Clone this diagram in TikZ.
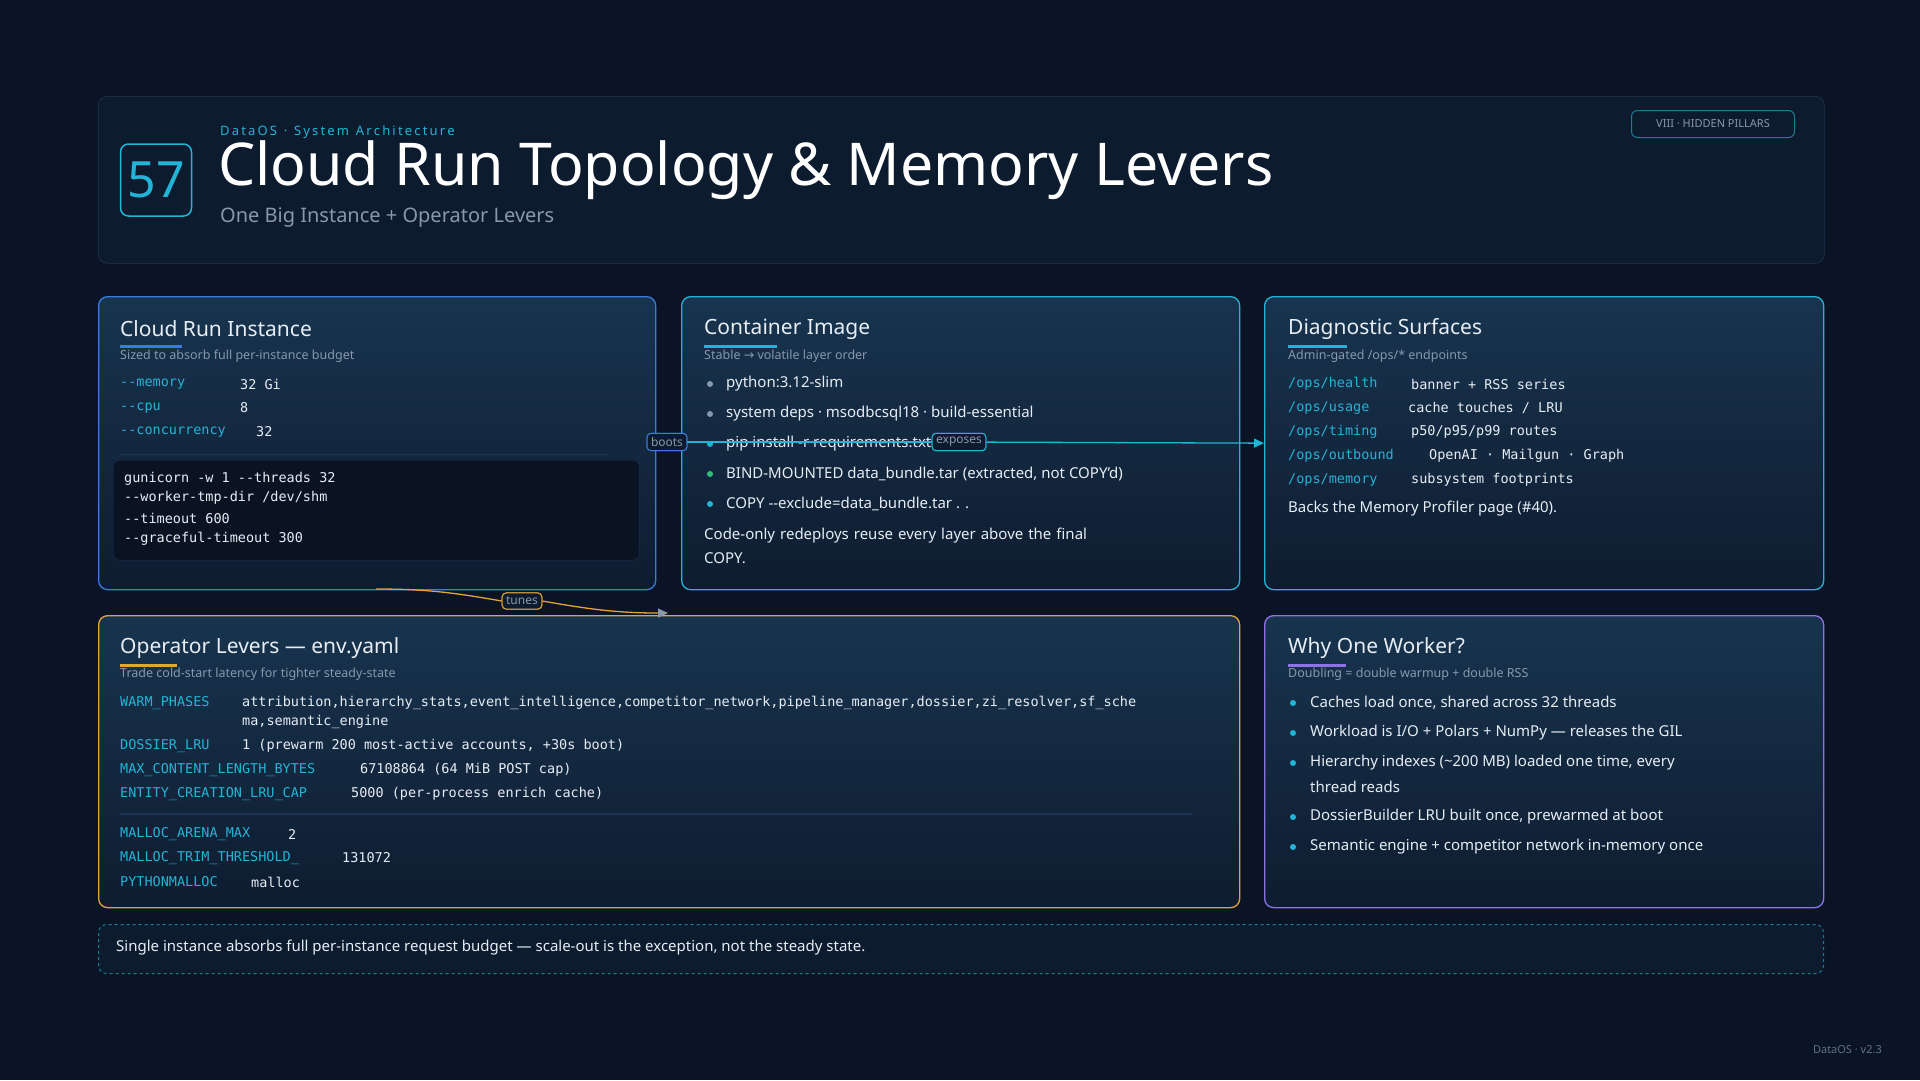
\documentclass[tikz,border=0pt]{standalone}
\usepackage{fontspec}
\setmainfont{Noto Sans}
\setmonofont{DejaVu Sans Mono}
\newfontfamily\symfont{DejaVu Sans}
\usetikzlibrary{arrows.meta,positioning,shapes.geometric}

\definecolor{bgdark}{HTML}{0A1424}
\definecolor{paneltop}{HTML}{18344E}
\definecolor{panelbot}{HTML}{0E1C30}
\definecolor{headfill}{HTML}{0D1B2E}
\definecolor{codefill}{HTML}{0A1322}
\definecolor{cyanacc}{HTML}{22B4D6}
\definecolor{blueacc}{HTML}{3B7BE0}
\definecolor{orangeacc}{HTML}{E3A23A}
\definecolor{purpleacc}{HTML}{8C72E6}
\definecolor{greenacc}{HTML}{2FBF7A}
\definecolor{txtgrey}{HTML}{8798AE}
\definecolor{txtwhite}{HTML}{E6EDF5}
\definecolor{sepline}{HTML}{1E3450}

\tikzset{
  panel/.style={draw=#1, line width=1.3pt, rounded corners=9pt, top color=paneltop, bottom color=panelbot, anchor=north west, inner sep=0pt},
  ptitle/.style={anchor=west, font=\fontsize{21}{24}\selectfont, text=txtwhite, inner sep=0pt},
  psub/.style={anchor=west, font=\fontsize{12.5}{15}\selectfont, text=txtgrey, inner sep=0pt},
  body/.style={anchor=west, font=\fontsize{15}{18}\selectfont, text=txtwhite, inner sep=0pt},
  key/.style={anchor=west, font=\ttfamily\fontsize{13.5}{16}\selectfont, text=cyanacc, inner sep=0pt},
  val/.style={anchor=west, font=\ttfamily\fontsize{13.5}{16}\selectfont, text=txtwhite, inner sep=0pt},
  dot/.style={circle, fill=#1, inner sep=0pt, minimum size=6pt},
  tag/.style={draw=#1, fill=headfill, rounded corners=4pt, font=\fontsize{12}{14}\selectfont, text=txtgrey, inner sep=4pt, line width=1pt},
  flow/.style={line width=1.3pt, cyanacc, -{Triangle[length=10pt,width=9pt]}}
}

\begin{document}
\begin{tikzpicture}[x=1pt, y=-1pt]
  % Hintergrund
  \fill[bgdark] (0,0) rectangle (1920,1080);
  \useasboundingbox (0,0) rectangle (1920,1080);

  % Kopfbereich
  \node (head) [panel=sepline, fill=headfill, top color=headfill, bottom color=headfill, line width=0.6pt, minimum width=1726pt, minimum height=167pt] at (98,96) {};
  \node (num) [draw=cyanacc, line width=1.5pt, rounded corners=8pt, minimum width=71pt, minimum height=72pt, font=\fontsize{50}{50}\selectfont, text=cyanacc, inner sep=0pt] at (156,180) {57};
  \node (kicker) [anchor=west, font=\fontsize{13}{15}\selectfont, text=cyanacc, inner sep=0pt] at (220,132) {D\,a\,t\,a\,O\,S\ \ ·\ \ S\,y\,s\,t\,e\,m\ \ A\,r\,c\,h\,i\,t\,e\,c\,t\,u\,r\,e};
  \node (title) [anchor=west, font=\fontsize{59}{62}\selectfont, text=white, inner sep=0pt] at (218,170) {Cloud Run Topology \& Memory Levers};
  \node (subtitle) [anchor=west, font=\fontsize{20}{24}\selectfont, text=txtgrey, inner sep=0pt] at (220,218) {One Big Instance + Operator Levers};
  \node (badge) [draw=cyanacc!70!black, fill=headfill, rounded corners=6pt, minimum width=163pt, minimum height=27pt, font=\fontsize{11}{13}\selectfont, text=txtgrey, line width=1pt] at (1713,124) {VIII · HIDDEN PILLARS};

  % Panelen
  \node (inst) [panel=blueacc, minimum width=557pt, minimum height=293pt] at (98,296) {};
  \node (image) [panel=cyanacc, minimum width=558pt, minimum height=293pt] at (681,296) {};
  \node (diag) [panel=cyanacc, minimum width=559pt, minimum height=293pt] at (1264,296) {};
  \node (levers) [panel=orangeacc, minimum width=1141pt, minimum height=292pt] at (98,615) {};
  \node (worker) [panel=purpleacc, minimum width=559pt, minimum height=292pt] at (1264,615) {};
  \node (footer) [draw=cyanacc!70!black, dashed, line width=1pt, rounded corners=8pt, fill=headfill, anchor=north west, minimum width=1725pt, minimum height=49pt] at (98,924) {};
  \node (footnote) [body, font=\fontsize{15}{18}\selectfont] at (116,948) {Single instance absorbs full per-instance request budget — scale-out is the exception, not the steady state.};
  \node (version) [anchor=east, font=\fontsize{11}{13}\selectfont, text=sepline!70!white, inner sep=0pt] at (1882,1050) {DataOS · v2.3};

  % Cloud Run Instance
  \node (instT) [ptitle] at (120,329) {Cloud Run Instance};
  \draw[blueacc, line width=3pt] (120,346) -- (182,346);
  \node (instS) [psub] at (120,356) {Sized to absorb full per-instance budget};
  \foreach \y/\k/\vx/\v in {384/--memory/240/32 Gi, 408/--cpu/240/8, 432/--concurrency/256/32}
    \node[key] at (120,\y) {\k} node[val] at (\vx,\y) {\v};
  \draw[sepline, line width=1pt] (120,454) -- (608,454);
  \node (code) [draw=sepline, fill=codefill, rounded corners=6pt, anchor=north west, minimum width=526pt, minimum height=100pt] at (113,460) {};
  \foreach \y/\v in {479/gunicorn -w 1 --threads 32, 498/--worker-tmp-dir {/}dev{/}shm, 518/--timeout 600, 539/--graceful-timeout 300}
    \node[val] at (124,\y) {\v};

  % Container Image
  \node (imageT) [ptitle] at (704,329) {Container Image};
  \draw[cyanacc, line width=3pt] (704,346) -- (777,346);
  \node (imageS) [psub] at (704,356) {Stable {\symfont→} volatile layer order};
  \foreach \y/\c/\t in {384/txtgrey/python:3.12-slim, 414/txtgrey/system deps · msodbcsql18 · build-essential, 444/cyanacc/pip install -r requirements.txt, 474/greenacc/BIND-MOUNTED data\_bundle.tar (extracted{,} not COPY'd), 504/cyanacc/COPY -{}-exclude=data\_bundle.tar . .}
    \node[dot=\c] at (710,\y) {} node[body] at (726,\y) {\t};
  \node (imageP) [body, align=left, text width=420pt, anchor=north west, font=\fontsize{15}{24}\selectfont] at (704,528) {Code-only redeploys reuse every layer above the final COPY.};

  % Diagnostic Surfaces
  \node (diagT) [ptitle] at (1288,329) {Diagnostic Surfaces};
  \draw[cyanacc, line width=3pt] (1288,346) -- (1347,346);
  \node (diagS) [psub] at (1288,356) {Admin-gated /ops/* endpoints};
  \node[key] at (1288,384) {/ops/health};   \node[val] at (1411,384) {banner + RSS series};
  \node[key] at (1288,408) {/ops/usage};    \node[val] at (1408,408) {cache touches / LRU};
  \node[key] at (1288,432) {/ops/timing};   \node[val] at (1411,432) {p50/p95/p99 routes};
  \node[key] at (1288,456) {/ops/outbound}; \node[val] at (1429,456) {OpenAI · Mailgun · Graph};
  \node[key] at (1288,480) {/ops/memory};   \node[val] at (1411,480) {subsystem footprints};
  \node (diagP) [body] at (1288,509) {Backs the Memory Profiler page (\#40).};

  % Operator Levers
  \node (leversT) [ptitle] at (120,648) {Operator Levers — env.yaml};
  \draw[orangeacc, line width=3pt] (120,665) -- (177,665);
  \node (leversS) [psub] at (120,674) {Trade cold-start latency for tighter steady-state};
  \node[key] at (120,703) {WARM\_PHASES};
  \node[val] at (242,703) {attribution,hierarchy\_stats,event\_intelligence,competitor\_network,pipeline\_manager,dossier,zi\_resolver,sf\_sche};
  \node[val] at (242,722) {ma,semantic\_engine};
  \foreach \y/\k/\vx/\v in {746/DOSSIER\_LRU/242/1 (prewarm 200 most-active accounts{,} +30s boot), 770/MAX\_CONTENT\_LENGTH\_BYTES/360/67108864 (64 MiB POST cap), 794/ENTITY\_CREATION\_LRU\_CAP/351/5000 (per-process enrich cache), 834/MALLOC\_ARENA\_MAX/288/2, 858/MALLOC\_TRIM\_THRESHOLD\_/342/131072, 882/PYTHONMALLOC/251/malloc}
    \node[key] at (120,\y) {\k} node[val] at (\vx,\y) {\v};
  \draw[sepline, line width=1.5pt] (120,814) -- (1192,814);

  % Why One Worker
  \node (workerT) [ptitle] at (1288,648) {Why One Worker?};
  \draw[purpleacc, line width=3pt] (1288,665) -- (1346,665);
  \node (workerS) [psub] at (1288,674) {Doubling = double warmup + double RSS};
  \foreach \y/\t in {703/Caches load once{,} shared across 32 threads, 733/Workload is I{/}O + Polars + NumPy — releases the GIL, 763/Hierarchy indexes (\textasciitilde200 MB) loaded one time{,} every, 787/thread reads, 817/DossierBuilder LRU built once{,} prewarmed at boot, 847/Semantic engine + competitor network in-memory once}
    \node[body] at (1310,\y) {\t};
  \foreach \y in {703,733,763,817,847}
    \node[dot=cyanacc] at (1293,\y) {};

  % Verbindungen
  \node (boots) [tag=blueacc] at (667,442) {boots};
  \node (exposes) [tag=cyanacc] at (959,442) {exposes};
  \draw[cyanacc, line width=1.3pt] (boots) -- (exposes);
  \draw[flow] (exposes) -- (diag.west);
  \node (boots) [tag=blueacc] at (667,442) {boots};
  \node (exposes) [tag=cyanacc] at (959,442) {exposes};

  \coordinate (tunesA) at (376,589);
  \coordinate (tunesB) at (668,613);
  \node (tunes) [tag=orangeacc] at (522,601) {tunes};
  \draw[orangeacc, line width=1.3pt] (tunesA) to[out=0, in=170] (tunes.west);
  \draw[orangeacc, line width=1.3pt, -{Triangle[length=10pt,width=9pt,fill=txtgrey,color=txtgrey]}] (tunes.east) to[out=-10, in=180] (tunesB);
  \node (tunes) [tag=orangeacc] at (522,601) {tunes};
\end{tikzpicture}
\end{document}
